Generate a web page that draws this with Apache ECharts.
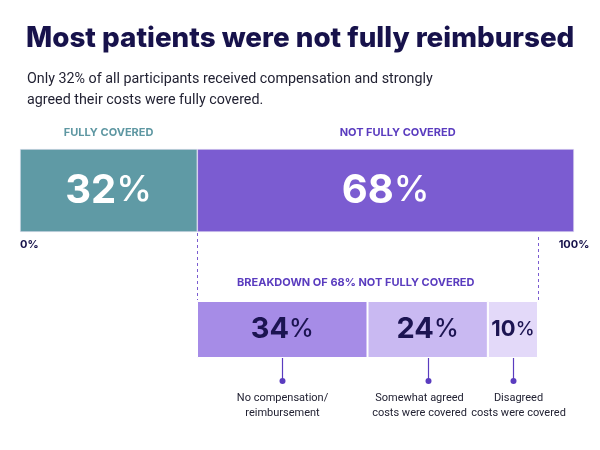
<!DOCTYPE html>
<html>
<head>
<meta charset="utf-8">
<script src="https://cdn.jsdelivr.net/npm/echarts@6/dist/echarts.min.js"></script>
<style>
  html, body { margin: 0; padding: 0; background: #ffffff; }
  #chart { width: 600px; height: 450px; }
</style>
</head>
<body>
<div id="chart"></div>
<script>
// top bar: share of all participants
const topCats = ['FULLY COVERED', 'NOT FULLY COVERED'];
const topValues = [32, 68];
const topColors = ['#5f9aa5', '#7b5cd1'];
const topHeadColors = ['#5e97a2', '#5a3cbf'];
// breakdown of the not fully covered part
const breakdownCats = ['No compensation/\nreimbursement', 'Somewhat agreed\ncosts were covered', 'Disagreed\ncosts were covered'];
const breakdownValues = [34, 24, 10];
const breakdownColors = ['#a68ce7', '#c9b9f2', '#e3d9f9'];
const axisTicks = [0, 100];

const fontFamily = 'Inter, "Noto Sans", sans-serif';
const textFamily = 'Roboto, "Noto Sans", sans-serif';
const chart = echarts.init(document.getElementById('chart'));

let series = [];
topValues.forEach((v, i) => {
  series.push({
    name: topCats[i],
    type: 'bar',
    stack: 'top',
    xAxisIndex: 0,
    yAxisIndex: 0,
    barWidth: '100%',
    data: [v],
    itemStyle: { color: topColors[i], borderColor: '#e9e6f5', borderWidth: 0.6 },
    label: {
      show: true,
      position: 'inside',
      formatter: '{n|' + v + '}{p|%}',
      rich: {
        n: { fontSize: 40, fontWeight: 700, color: '#ffffff', fontFamily: fontFamily },
        p: { fontSize: 36, fontWeight: 500, color: '#ffffff', fontFamily: fontFamily }
      }
    },
    silent: true
  });
});
breakdownValues.forEach((v, i) => {
  let big = v >= 20;
  series.push({
    name: breakdownCats[i],
    type: 'bar',
    stack: 'bottom',
    xAxisIndex: 1,
    yAxisIndex: 1,
    barWidth: '100%',
    data: [v],
    itemStyle: { color: breakdownColors[i], borderColor: '#ffffff', borderWidth: 1 },
    label: {
      show: true,
      position: 'inside',
      formatter: '{n|' + v + '}{p|%}',
      rich: {
        n: { fontSize: big ? 29 : 22, fontWeight: 700, color: '#1c1452', fontFamily: fontFamily },
        p: { fontSize: big ? 25 : 19, fontWeight: 500, color: '#1c1452', fontFamily: fontFamily }
      }
    },
    silent: true
  });
});

let option = {
  backgroundColor: '#ffffff',
  animation: false,
  title: [
    {
      text: 'Most patients were not fully reimbursed',
      left: 21,
      top: 20,
      textStyle: { fontSize: 27.8, fontWeight: 800, color: '#17124b', fontFamily: fontFamily }
    },
    {
      text: 'Only 32% of all participants received compensation and strongly\nagreed their costs were fully covered.',
      left: 22,
      top: 64,
      textStyle: { fontSize: 14.3, fontWeight: 400, color: '#222233', lineHeight: 21, fontFamily: textFamily }
    }
  ],
  grid: [
    { left: 20, right: 26, top: 149, height: 83 },
    { left: 197, right: 62, top: 301, height: 57 }
  ],
  xAxis: [
    {
      gridIndex: 0,
      type: 'value',
      min: axisTicks[0],
      max: axisTicks[1],
      interval: 100,
      splitLine: { show: false },
      axisLine: { show: false },
      axisTick: { show: false },
      axisLabel: {
        show: true,
        margin: 7,
        formatter: '{value}%',
        alignMinLabel: 'left',
        alignMaxLabel: 'center',
        fontSize: 11,
        fontWeight: 700,
        color: '#17124b',
        fontFamily: fontFamily
      }
    },
    {
      gridIndex: 1,
      type: 'value',
      min: 0,
      max: topValues[1],
      show: false
    }
  ],
  yAxis: [
    { gridIndex: 0, type: 'category', data: ['all'], show: false },
    { gridIndex: 1, type: 'category', data: ['not fully'], show: false }
  ],
  series: series
};
chart.setOption(option);

// annotations placed from the axes
let graphics = [];
let cum = 0;
topValues.forEach((v, i) => {
  let cx = chart.convertToPixel({ xAxisIndex: 0 }, cum + v / 2);
  graphics.push({
    type: 'text',
    x: cx + (i === 1 ? 12 : 0),
    y: 133,
    style: {
      text: topCats[i],
      align: 'center',
      verticalAlign: 'middle',
      fontSize: 11,
      fontWeight: 700,
      fill: topHeadColors[i],
      fontFamily: fontFamily
    }
  });
  cum += v;
});

// dashed guides from the 68% segment down to the breakdown
let leftX = chart.convertToPixel({ xAxisIndex: 1 }, 0);
let rightX = chart.convertToPixel({ xAxisIndex: 1 }, topValues[1]);
[[leftX, 233], [rightX, 237]].forEach(p => {
  graphics.push({
    type: 'line',
    shape: { x1: Math.round(p[0]) + 0.5, y1: p[1], x2: Math.round(p[0]) + 0.5, y2: 300 },
    style: { stroke: '#7b5cd1', lineWidth: 1, lineDash: [3, 3] }
  });
});
graphics.push({
  type: 'text',
  x: leftX + 40,
  y: 283,
  style: {
    text: 'BREAKDOWN OF 68% NOT FULLY COVERED',
    align: 'left',
    verticalAlign: 'middle',
    fontSize: 11,
    fontWeight: 700,
    fill: '#5a3cbf',
    fontFamily: fontFamily
  }
});

// connectors and captions under each breakdown segment
// captions of the two narrow segments are nudged apart so they do not collide
const captionShift = [0, -9, 5];
cum = 0;
breakdownValues.forEach((v, i) => {
  let cx = Math.round(chart.convertToPixel({ xAxisIndex: 1 }, cum + v / 2)) + 0.5;
  graphics.push({
    type: 'line',
    shape: { x1: cx, y1: 358, x2: cx, y2: 380 },
    style: { stroke: '#5a3cbf', lineWidth: 1.2 }
  });
  graphics.push({
    type: 'circle',
    shape: { cx: cx, cy: 381, r: 3 },
    style: { fill: '#5a3cbf' }
  });
  graphics.push({
    type: 'text',
    x: cx + captionShift[i],
    y: 391,
    style: {
      text: breakdownCats[i],
      align: 'center',
      verticalAlign: 'top',
      fontSize: 11,
      lineHeight: 15,
      fill: '#222233',
      fontFamily: textFamily
    }
  });
  cum += v;
});

chart.setOption({ graphic: graphics });
</script>
</body>
</html>
